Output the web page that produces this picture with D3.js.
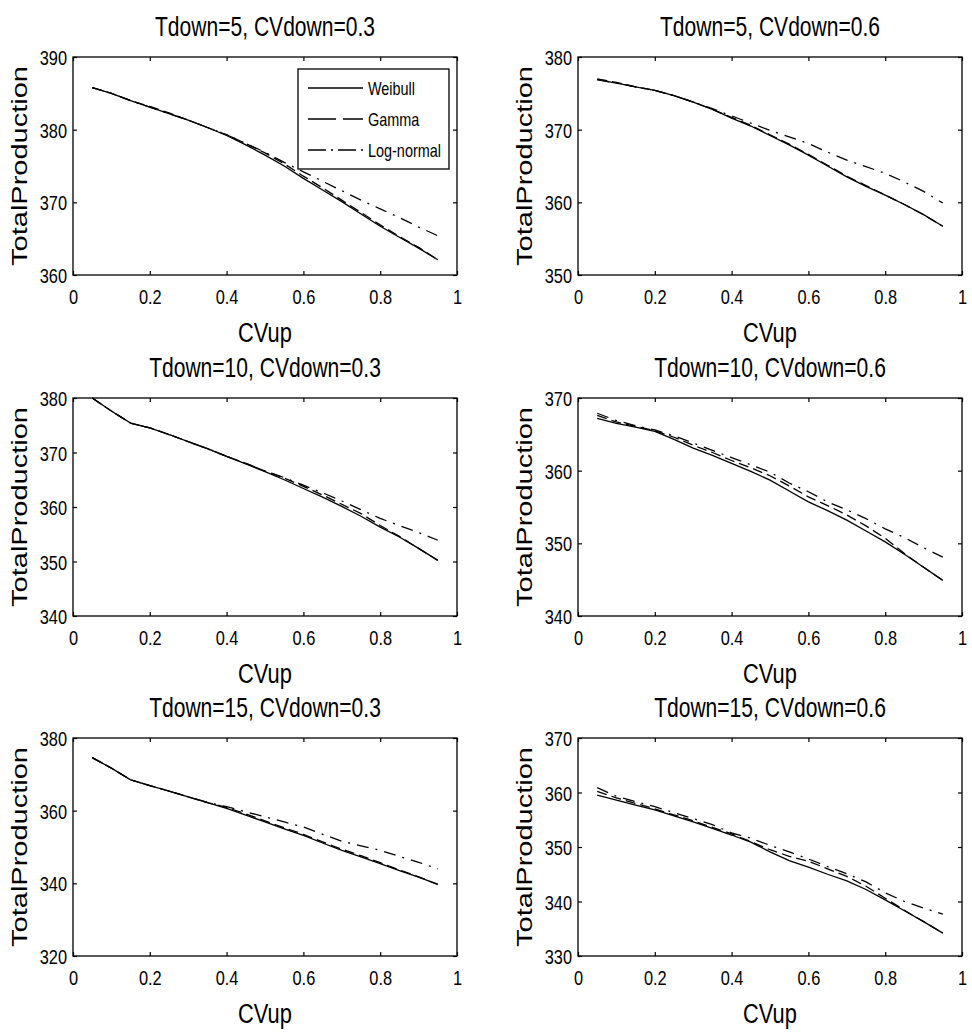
<!DOCTYPE html>
<html>
<head>
<meta charset="utf-8">
<script src="https://cdn.jsdelivr.net/npm/d3@7"></script>
<style>
  html, body { margin: 0; padding: 0; background: #fff; }
  svg { display: block; font-family: "Liberation Sans", Arial, sans-serif; }
</style>
</head>
<body>
<svg id="chart" width="972" height="1036"></svg>
<script>
// ---------------- DATA ----------------
const cvUp = [0.05,0.10,0.15,0.20,0.25,0.30,0.35,0.40,0.45,0.50,0.55,0.60,0.65,0.70,0.75,0.80,0.85,0.90,0.95];
const seriesNames = ["Weibull", "Gamma", "Log-normal"];
const panelTitles = [
  "Tdown=5, CVdown=0.3", "Tdown=5, CVdown=0.6",
  "Tdown=10, CVdown=0.3", "Tdown=10, CVdown=0.6",
  "Tdown=15, CVdown=0.3", "Tdown=15, CVdown=0.6"
];
const xTicks = [0, 0.2, 0.4, 0.6, 0.8, 1];
const xTickLabels = ["0", "0.2", "0.4", "0.6", "0.8", "1"];
const yDomains = [[360,390],[350,380],[340,380],[340,370],[320,380],[330,370]];
const yTicks = [
  [360,370,380,390],
  [350,360,370,380],
  [340,350,360,370,380],
  [340,350,360,370],
  [320,340,360,380],
  [330,340,350,360,370]
];
// Panel 1: Tdown=5, CVdown=0.3
const p1Weibull = [385.8,385.0,384.0,383.1,382.2,381.3,380.3,379.2,377.9,376.5,375.0,373.3,371.7,370.1,368.4,366.7,365.2,363.7,362.1];
const p1Gamma   = [385.8,385.0,384.0,383.2,382.3,381.3,380.3,379.3,378.1,376.8,375.3,373.6,372.0,370.3,368.6,366.9,365.3,363.8,362.1];
const p1Lognorm = [385.8,385.0,384.0,383.1,382.2,381.3,380.3,379.3,378.1,376.9,375.5,374.2,372.9,371.6,370.3,369.1,367.9,366.6,365.4];
// Panel 2: Tdown=5, CVdown=0.6
const p2Weibull = [376.9,376.4,375.9,375.4,374.7,373.8,372.8,371.6,370.5,369.2,367.9,366.5,365.0,363.5,362.2,361.0,359.7,358.3,356.7];
const p2Gamma   = [377.0,376.5,375.9,375.4,374.7,373.8,372.8,371.7,370.6,369.3,368.0,366.6,365.1,363.6,362.3,361.0,359.7,358.3,356.7];
const p2Lognorm = [376.9,376.4,375.9,375.4,374.7,373.8,372.9,371.9,370.9,369.9,369.0,368.1,366.9,365.8,364.9,364.0,362.8,361.5,359.9];
// Panel 3: Tdown=10, CVdown=0.3
const p3Weibull = [380.0,377.6,375.4,374.5,373.3,372.0,370.7,369.3,367.9,366.5,365.0,363.4,361.8,360.1,358.3,356.3,354.5,352.4,350.2];
const p3Gamma   = [380.0,377.6,375.4,374.5,373.3,372.0,370.7,369.3,368.0,366.6,365.3,363.8,362.2,360.5,358.8,356.6,354.6,352.4,350.2];
const p3Lognorm = [380.0,377.6,375.4,374.5,373.3,372.0,370.7,369.3,368.0,366.6,365.4,364.0,362.6,361.1,359.5,357.9,356.6,355.3,353.9];
// Panel 4: Tdown=10, CVdown=0.6
const p4Weibull = [367.2,366.5,366.0,365.4,364.3,363.1,362.1,361.0,359.9,358.7,357.2,355.7,354.5,353.2,351.7,350.2,348.5,346.7,344.9];
const p4Gamma   = [367.6,366.7,366.1,365.5,364.6,363.5,362.5,361.4,360.4,359.3,357.9,356.4,355.2,353.9,352.4,350.7,348.6,346.7,344.9];
const p4Lognorm = [367.9,366.9,366.2,365.6,364.8,363.8,362.8,361.8,360.8,359.8,358.3,357.1,355.7,354.6,353.4,352.0,350.8,349.4,348.1];
// Panel 5: Tdown=15, CVdown=0.3
const p5Weibull = [374.6,371.7,368.5,366.9,365.4,363.8,362.2,360.6,358.8,356.9,355.0,353.2,351.1,349.1,347.3,345.4,343.5,341.7,339.7];
const p5Gamma   = [374.6,371.7,368.5,366.9,365.4,363.8,362.2,360.9,359.1,357.2,355.3,353.5,351.4,349.4,347.6,345.7,343.7,341.8,339.7];
const p5Lognorm = [374.6,371.7,368.5,366.9,365.4,363.8,362.3,361.1,359.7,358.3,356.9,355.5,353.5,351.6,350.3,349.1,347.4,345.8,344.0];
// Panel 6: Tdown=15, CVdown=0.6
const p6Weibull = [359.5,358.6,357.7,356.8,355.7,354.6,353.4,352.2,350.9,349.1,347.5,346.3,345.0,343.8,342.2,340.3,338.3,336.3,334.2];
const p6Gamma   = [360.2,359.0,358.0,357.0,355.9,354.8,353.6,352.4,351.0,349.5,348.3,347.4,346.0,344.6,342.8,340.6,338.4,336.3,334.2];
const p6Lognorm = [360.9,359.3,358.3,357.4,356.3,355.2,354.1,352.6,351.6,350.3,349.1,347.8,346.4,345.1,343.6,341.6,340.0,338.8,337.7];

const panelSeries = [
  [p1Weibull, p1Gamma, p1Lognorm],
  [p2Weibull, p2Gamma, p2Lognorm],
  [p3Weibull, p3Gamma, p3Lognorm],
  [p4Weibull, p4Gamma, p4Lognorm],
  [p5Weibull, p5Gamma, p5Lognorm],
  [p6Weibull, p6Gamma, p6Lognorm]
];

// ---------------- LAYOUT / STYLE ----------------
const SQ = 0.78;               // horizontal squeeze of the text
const colLeft = [73, 578];
const rowTop = [57, 398, 738];
const W = 384, H = 218;
const dashData = ["none", "10,5", "12,7,2,7"];
const dashLegend = ["none", "28,7", "18,5,2,5"];

const svg = d3.select("#chart");

panelSeries.forEach((series, i) => {
  const col = i % 2, row = Math.floor(i / 2);
  const g = svg.append("g").attr("transform", `translate(${colLeft[col]},${rowTop[row]})`);
  const x = d3.scaleLinear().domain([0, 1]).range([0, W]);
  const y = d3.scaleLinear().domain(yDomains[i]).range([H, 0]);

  // axes (inward ticks on all four sides)
  const bottom = g.append("g").attr("transform", `translate(0,${H})`)
    .call(d3.axisBottom(x).tickValues(xTicks).tickFormat((d, k) => xTickLabels[k])
      .tickSizeInner(-4).tickSizeOuter(0));
  const top = g.append("g")
    .call(d3.axisTop(x).tickValues(xTicks).tickFormat("").tickSizeInner(-4).tickSizeOuter(0));
  const left = g.append("g")
    .call(d3.axisLeft(y).tickValues(yTicks[i]).tickFormat(d3.format("d")).tickSizeInner(-4).tickSizeOuter(0));
  const right = g.append("g").attr("transform", `translate(${W},0)`)
    .call(d3.axisRight(y).tickValues(yTicks[i]).tickFormat("").tickSizeInner(-4).tickSizeOuter(0));

  [bottom, top, left, right].forEach(a => {
    a.select(".domain").remove();
    a.selectAll(".tick line").attr("stroke", "#000").attr("stroke-width", 1.2);
  });
  bottom.selectAll(".tick text")
    .attr("y", 29).attr("dy", null).attr("x", 0)
    .attr("font-size", 21).attr("fill", "#000")
    .attr("font-family", "Liberation Sans, Arial, sans-serif")
    .attr("transform", `scale(${SQ},1)`);
  left.selectAll(".tick text")
    .attr("x", -6 / SQ).attr("dy", "0.36em")
    .attr("font-size", 21).attr("fill", "#000")
    .attr("font-family", "Liberation Sans, Arial, sans-serif")
    .attr("transform", `scale(${SQ},1)`);

  // frame
  g.append("rect").attr("x", 0).attr("y", 0).attr("width", W).attr("height", H)
    .attr("fill", "none").attr("stroke", "#000").attr("stroke-width", 1.3);

  // lines
  const line = d3.line().x((d, k) => x(cvUp[k])).y(d => y(d));
  series.forEach((vals, s) => {
    g.append("path").datum(vals).attr("d", line)
      .attr("fill", "none").attr("stroke", "#000").attr("stroke-width", 1.3)
      .attr("stroke-dasharray", dashData[s]);
  });

  // title
  g.append("text")
    .attr("transform", `translate(${W / 2},-21) scale(${SQ},1)`)
    .attr("text-anchor", "middle").attr("font-size", 27).attr("fill", "#000")
    .text(panelTitles[i]);
  // x label
  g.append("text")
    .attr("transform", `translate(${W / 2},${H + 67}) scale(${SQ},1)`)
    .attr("text-anchor", "middle").attr("font-size", 28).attr("fill", "#000")
    .text("CVup");
  // y label
  g.append("text")
    .attr("transform", `translate(-46,${H / 2}) rotate(-90) scale(1,${SQ})`)
    .attr("text-anchor", "middle").attr("font-size", 29).attr("fill", "#000")
    .text("TotalProduction");

  // legend only in first panel
  if (i === 0) {
    const lg = g.append("g").attr("transform", `translate(${298 - 73},${69 - 57})`);
    lg.append("rect").attr("width", 151).attr("height", 100)
      .attr("fill", "#fff").attr("stroke", "#000").attr("stroke-width", 1.3);
    seriesNames.forEach((name, s) => {
      const yy = 19 + s * 31;
      lg.append("line").attr("x1", 10).attr("x2", 65).attr("y1", yy).attr("y2", yy)
        .attr("stroke", "#000").attr("stroke-width", 1.3)
        .attr("stroke-dasharray", dashLegend[s]);
      lg.append("text")
        .attr("transform", `translate(70,${yy}) scale(${SQ},1)`)
        .attr("dy", "0.36em").attr("font-size", 18.5).attr("fill", "#000")
        .text(name);
    });
  }
});
</script>
</body>
</html>
